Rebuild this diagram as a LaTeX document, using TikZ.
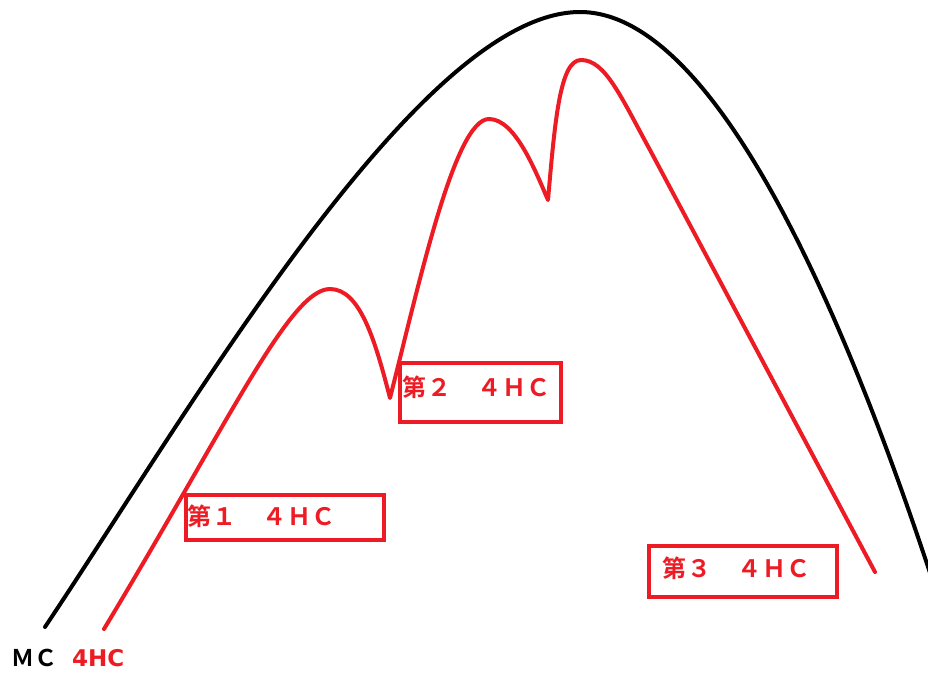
\documentclass[tikz,border=0pt]{standalone}
\usepackage{fontspec}
\newfontfamily\jpfont[LetterSpace=4]{Noto Sans CJK JP Bold}
\newfontfamily\jpmc{Noto Sans CJK JP Bold}
\newfontfamily\latfont{DejaVu Sans Bold}
\definecolor{pred}{RGB}{237,28,36}
\tikzset{
  mcline/.style={line width=4pt, black, line cap=round},
  hcline/.style={line width=4pt, pred, line cap=round, line join=round},
  labelbox/.style={draw=pred, line width=4pt, inner sep=0pt},
  labeltext/.style={text=pred, inner sep=0pt, font=\jpfont\fontsize{24}{24}\selectfont},
}
\begin{document}
\begin{tikzpicture}[x=1pt,y=-1pt]
\useasboundingbox[fill=white] (0,0) rectangle (928,673);
% coordinates
\coordinate (mcstart) at (45,627);
\coordinate (mctop) at (580,12);
\coordinate (mcend) at (934,585);
\coordinate (hcstart) at (104,629);
\coordinate (p1) at (330,289);
\coordinate (d1) at (390,398);
\coordinate (p2) at (489,119);
\coordinate (d2) at (548,200);
\coordinate (p3) at (581,60);
\coordinate (k3) at (650,150);
\coordinate (hcend) at (875,572);
% black MC curve
\begin{scope}
\clip (0,0) rectangle (928,673);
\draw[mcline] (mcstart) .. controls (190,410) and (420,12) .. (mctop)
  .. controls (720,12) and (852,335) .. (mcend);
\end{scope}
% red 4HC curve
\draw[hcline] (hcstart) .. controls (230,420) and (290,289) .. (p1)
  .. controls (360,289) and (375,340) .. (d1)
  .. controls (420,280) and (455,119) .. (p2)
  .. controls (515,119) and (535,170) .. (d2)
  .. controls (555,120) and (560,60) .. (p3)
  .. controls (605,60) and (620,95) .. (k3)
  -- (hcend);
% label boxes
\node[labelbox, minimum width=198pt, minimum height=45pt] (box1) at (285,517.5) {};
\node[labelbox, minimum width=161pt, minimum height=59pt] (box2) at (480.5,392.5) {};
\node[labelbox, minimum width=188pt, minimum height=51pt] (box3) at (743,571.5) {};
\node[labeltext, anchor=base west] (t1) at (187,525) {第１　４ＨＣ};
\node[labeltext, anchor=base west] (t2) at (402,396) {第２　４ＨＣ};
\node[labeltext, anchor=base west] (t3) at (662,577) {第３　４ＨＣ};
% bottom labels
\node[inner sep=0pt, anchor=base west, font=\jpmc\fontsize{23}{23}\selectfont] (mclabel) at (11,666) {ＭＣ};
\node[inner sep=0pt, anchor=base west, text=pred, font=\latfont\fontsize{23}{23}\selectfont] (hclabel) at (72,666) {4HC};
\end{tikzpicture}
\end{document}
